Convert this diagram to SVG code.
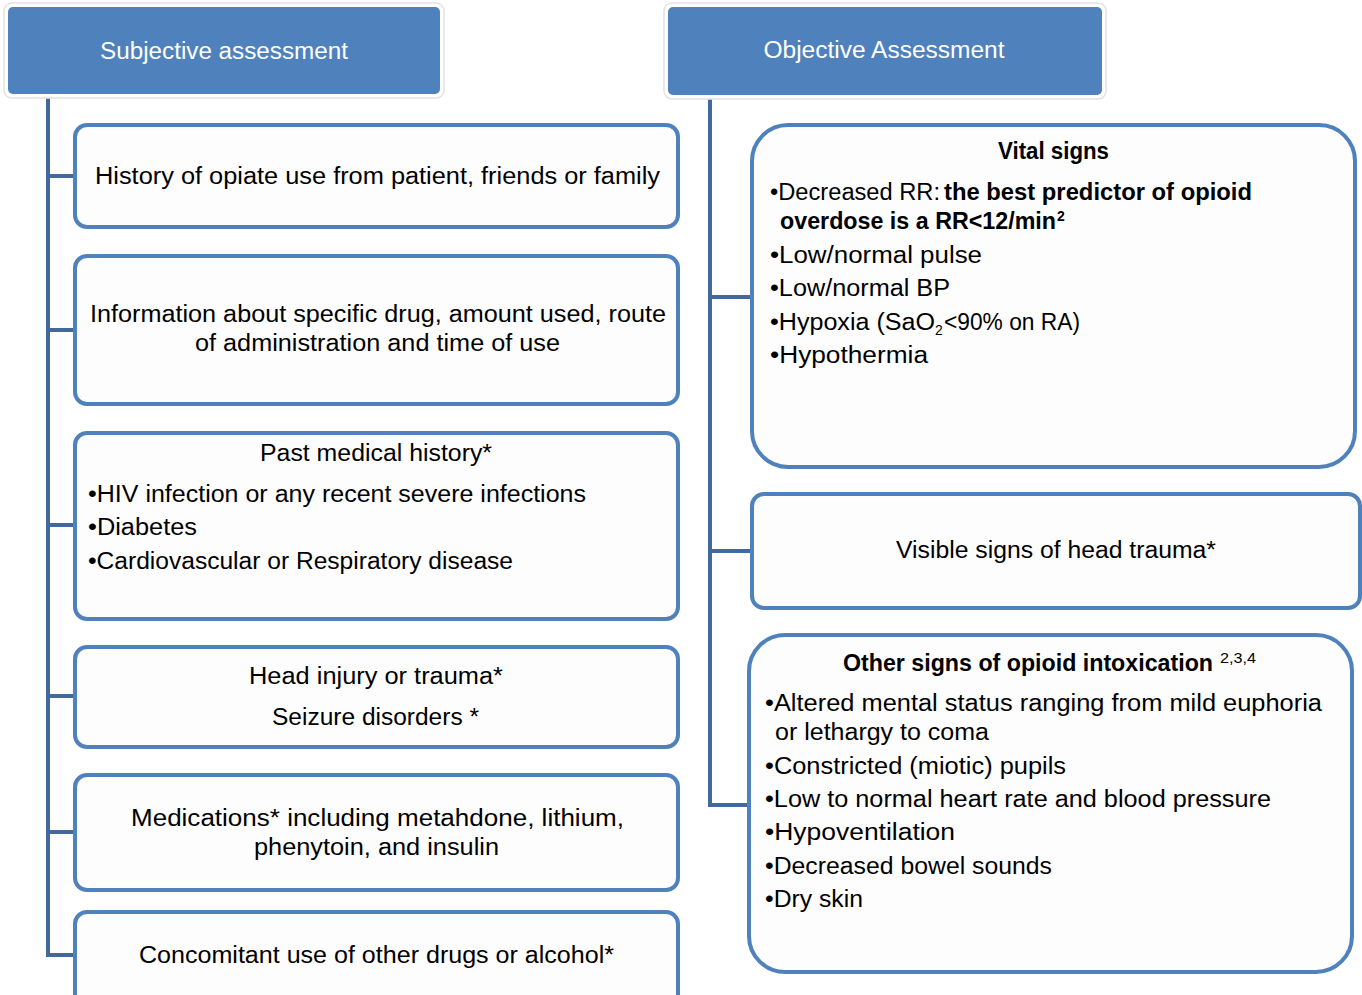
<svg xmlns="http://www.w3.org/2000/svg" width="1362" height="995" viewBox="0 0 1362 995">
<style>
.hdr{fill:#4F81BD}
.halo{fill:#ffffff;stroke:#e2e2e2;stroke-width:1.5}
.ht{font-family:"Liberation Sans",Arial,sans-serif;font-size:23px;fill:#ffffff;text-anchor:middle}
.box{fill:#fdfdfe;stroke:#4F81BD;stroke-width:4}
.t{font-family:"Liberation Sans",Arial,sans-serif;font-size:23px;fill:#000000}
.c{text-anchor:middle}
.b{font-weight:bold}
.conn{fill:none;stroke:#41699B;stroke-width:4}
</style>
<rect width="1362" height="995" fill="#ffffff"/>
<g id="connectors">
<path class="conn" d="M48,95 V955 H75 M48,176 H75 M48,330 H75 M48,525 H75 M48,696 H75 M48,832 H75"/>
<path class="conn" d="M710,97 V805 H749 M710,297 H752 M710,551 H752"/>
</g>
<g id="subjective">
<rect class="halo" x="4" y="3" width="440" height="95" rx="8"/>
<rect class="hdr" x="8" y="7" width="432" height="87" rx="5"/>
<text class="ht" x="224" y="59" textLength="248" lengthAdjust="spacingAndGlyphs">Subjective assessment</text>
</g>
<g id="objective">
<rect class="halo" x="664" y="3" width="442" height="96" rx="8"/>
<rect class="hdr" x="668" y="7" width="434" height="88" rx="5"/>
<text class="ht" x="884" y="58" textLength="241" lengthAdjust="spacingAndGlyphs">Objective Assessment</text>
</g>
<g id="history">
<rect class="box" x="75" y="125" width="603" height="102" rx="12"/>
<text class="t" x="95" y="184" textLength="565" lengthAdjust="spacingAndGlyphs">History of opiate use from patient, friends or family</text>
</g>
<g id="information">
<rect class="box" x="75" y="256" width="603" height="148" rx="12"/>
<text class="t" x="90" y="322" textLength="576" lengthAdjust="spacingAndGlyphs">Information about specific drug, amount used, route</text>
<text class="t" x="195" y="351" textLength="365" lengthAdjust="spacingAndGlyphs">of administration and time of use</text>
</g>
<g id="pmh">
<rect class="box" x="75" y="433" width="603" height="186" rx="12"/>
<text class="t" x="260" y="461" textLength="232" lengthAdjust="spacingAndGlyphs">Past medical history*</text>
<text class="t" x="88" y="502" textLength="498" lengthAdjust="spacingAndGlyphs">•HIV infection or any recent severe infections</text>
<text class="t" x="88" y="535" textLength="109" lengthAdjust="spacingAndGlyphs">•Diabetes</text>
<text class="t" x="88" y="569" textLength="425" lengthAdjust="spacingAndGlyphs">•Cardiovascular or Respiratory disease</text>
</g>
<g id="head-injury">
<rect class="box" x="75" y="647" width="603" height="100" rx="12"/>
<text class="t" x="249" y="684" textLength="254" lengthAdjust="spacingAndGlyphs">Head injury or trauma*</text>
<text class="t" x="272" y="725" textLength="207" lengthAdjust="spacingAndGlyphs">Seizure disorders *</text>
</g>
<g id="medications">
<rect class="box" x="75" y="775" width="603" height="115" rx="12"/>
<text class="t" x="131" y="826" textLength="493" lengthAdjust="spacingAndGlyphs">Medications* including  metahdone, lithium,</text>
<text class="t" x="254" y="855" textLength="245" lengthAdjust="spacingAndGlyphs">phenytoin, and insulin</text>
</g>
<g id="concomitant">
<rect class="box" x="75" y="912" width="603" height="110" rx="12"/>
<text class="t" x="139" y="963" textLength="475" lengthAdjust="spacingAndGlyphs">Concomitant use of other drugs or alcohol*</text>
</g>
<g id="vital-signs">
<rect class="box" x="752" y="125" width="603" height="342" rx="36"/>
<text class="t b" x="998" y="159" textLength="111" lengthAdjust="spacingAndGlyphs">Vital signs</text>
<text class="t" x="770" y="200" textLength="170" lengthAdjust="spacingAndGlyphs">•Decreased RR:</text>
<text class="t b" x="944" y="200" textLength="308" lengthAdjust="spacingAndGlyphs">the best predictor of opioid</text>
<text class="t b" x="780" y="229" textLength="276" lengthAdjust="spacingAndGlyphs">overdose is a RR&lt;12/min</text>
<text class="t b" x="1057" y="221" style="font-size:14px">2</text>
<text class="t" x="770" y="263" textLength="212" lengthAdjust="spacingAndGlyphs">•Low/normal pulse</text>
<text class="t" x="770" y="296" textLength="180" lengthAdjust="spacingAndGlyphs">•Low/normal BP</text>
<text class="t" x="770" y="330" textLength="165" lengthAdjust="spacingAndGlyphs">•Hypoxia (SaO</text>
<text class="t" x="935" y="335" style="font-size:14px">2</text>
<text class="t" x="944" y="330" textLength="136" lengthAdjust="spacingAndGlyphs">&lt;90% on RA)</text>
<text class="t" x="770" y="363" textLength="158" lengthAdjust="spacingAndGlyphs">•Hypothermia</text>
</g>
<g id="head-trauma">
<rect class="box" x="752" y="494" width="608" height="114" rx="12"/>
<text class="t" x="896" y="558" textLength="320" lengthAdjust="spacingAndGlyphs">Visible signs of head trauma*</text>
</g>
<g id="other-signs">
<rect class="box" x="749" y="635" width="603" height="337" rx="36"/>
<text class="t b" x="843" y="671" textLength="370" lengthAdjust="spacingAndGlyphs">Other signs of opioid intoxication</text>
<text class="t" x="1220" y="663" style="font-size:14px" textLength="36" lengthAdjust="spacingAndGlyphs">2,3,4</text>
<text class="t" x="765" y="711" textLength="557" lengthAdjust="spacingAndGlyphs">•Altered mental status ranging from mild euphoria</text>
<text class="t" x="775" y="740" textLength="214" lengthAdjust="spacingAndGlyphs">or lethargy to coma</text>
<text class="t" x="765" y="774" textLength="301" lengthAdjust="spacingAndGlyphs">•Constricted (miotic) pupils</text>
<text class="t" x="765" y="807" textLength="506" lengthAdjust="spacingAndGlyphs">•Low to normal heart rate and blood pressure</text>
<text class="t" x="765" y="840" textLength="190" lengthAdjust="spacingAndGlyphs">•Hypoventilation</text>
<text class="t" x="765" y="874" textLength="287" lengthAdjust="spacingAndGlyphs">•Decreased bowel sounds</text>
<text class="t" x="765" y="907" textLength="98" lengthAdjust="spacingAndGlyphs">•Dry skin</text>
</g>
</svg>
